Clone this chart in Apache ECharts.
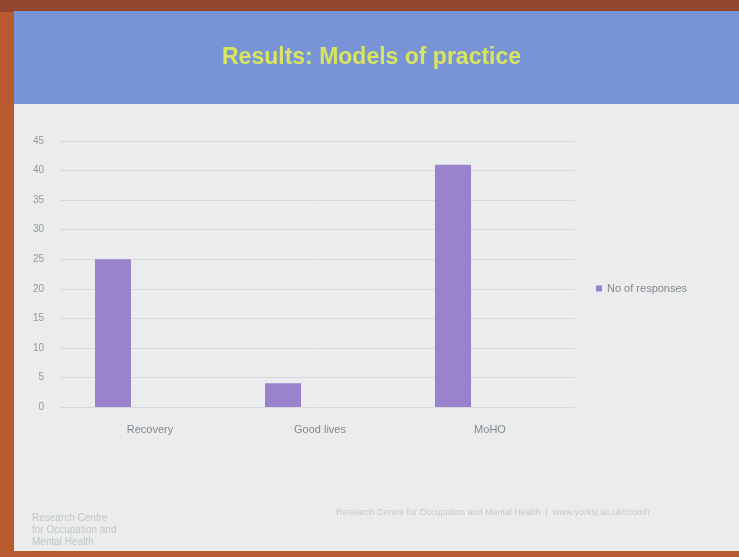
<!DOCTYPE html>
<html>
<head>
<meta charset="utf-8">
<script src="https://cdn.jsdelivr.net/npm/echarts@6/dist/echarts.min.js"></script>
<style>
  html, body { margin: 0; padding: 0; background: #b85a2e; }
  #chart { width: 739px; height: 557px; }
</style>
</head>
<body>
<div id="chart"></div>
<script>
// data
var categories = ['Recovery', 'Good lives', 'MoHO'];
var responses = [25, 4, 41];
var seriesName = 'No of responses';
var titleText = 'Results: Models of practice';
var yMin = 0, yMax = 45, yStep = 5;

var chart = echarts.init(document.getElementById('chart'));

var option = {
    backgroundColor: '#b85a2e',
    animation: false,
    textStyle: { fontFamily: 'Liberation Sans, Arial, sans-serif' },
    graphic: [
        // slide frame / body
        { type: 'rect', shape: { x: 0, y: 0, width: 739, height: 12 }, style: { fill: '#94472f' }, z: -10 },
        { type: 'rect', shape: { x: 14, y: 11, width: 725, height: 540 }, style: { fill: '#eaeced' }, z: -9 },
        // header band
        { type: 'rect', shape: { x: 14, y: 11, width: 725, height: 93 }, style: { fill: '#7894d6' }, z: -8 },
        { type: 'text', left: 222, top: 46, style: { text: titleText, fill: '#d9e55e', font: 'bold 23px Liberation Sans' } },
        // footer
        { type: 'text', left: 32, top: 512, style: { text: 'Research Centre\nfor Occupation and\nMental Health', fill: '#c3c6c8', font: '10px Liberation Sans', lineHeight: 12 } },
        { type: 'text', left: 336, top: 508, style: { text: 'Research Centre for Occupation and Mental Health  |  www.yorksj.ac.uk/rcomh', fill: '#c6c8ca', font: '9px Liberation Sans' } }
    ],
    legend: {
        data: [seriesName],
        orient: 'vertical',
        left: 591,
        top: 278,
        itemWidth: 6,
        itemHeight: 6,
        itemGap: 4,
        icon: 'rect',
        textStyle: { color: '#85888b', fontSize: 11 }
    },
    grid: [
        // bars
        { left: 28, top: 141, width: 510, height: 266 },
        // gridlines + y labels (plot area as on the slide)
        { left: 60, top: 141, width: 515, height: 266 }
    ],
    xAxis: [
        {
            type: 'category',
            gridIndex: 0,
            data: categories,
            axisLine: { show: false },
            axisTick: { show: false },
            axisLabel: { color: '#85888b', fontSize: 11, margin: 17, padding: [0, 0, 0, 74] }
        },
        {
            type: 'category',
            gridIndex: 1,
            data: categories,
            show: false
        }
    ],
    yAxis: [
        { type: 'value', gridIndex: 0, min: yMin, max: yMax, interval: yStep, show: false },
        {
            type: 'value',
            gridIndex: 1,
            min: yMin,
            max: yMax,
            interval: yStep,
            axisLine: { show: false },
            axisTick: { show: false },
            axisLabel: { color: '#95989b', fontSize: 10, margin: 16 },
            splitLine: { lineStyle: { color: '#d6d9dc', width: 1 } }
        }
    ],
    series: [
        {
            name: seriesName,
            type: 'bar',
            xAxisIndex: 0,
            yAxisIndex: 0,
            barWidth: 36,
            itemStyle: { color: '#9a82cc' },
            data: responses
        }
    ]
};
chart.setOption(option);
</script>
</body>
</html>
